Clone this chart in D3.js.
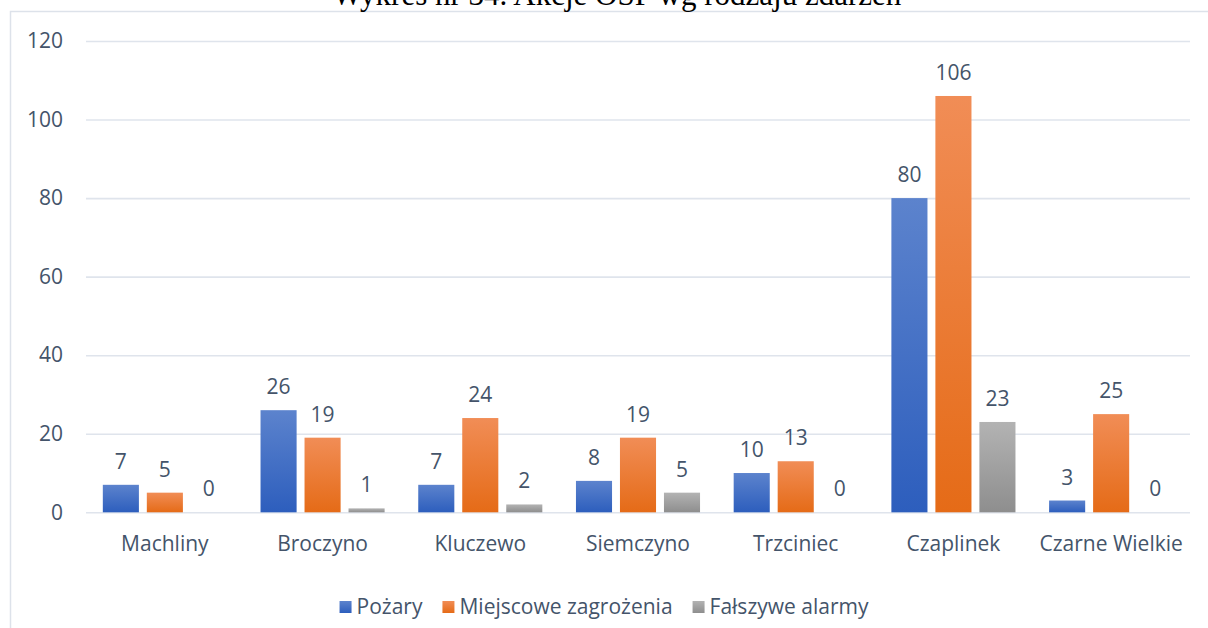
<!DOCTYPE html>
<html>
<head>
<meta charset="utf-8">
<script src="https://cdn.jsdelivr.net/npm/d3@7"></script>
<style>
  html, body { margin: 0; padding: 0; background: #fff; }
  svg { display: block; }
</style>
</head>
<body>
<svg id="chart" width="1208" height="628"></svg>
<script>
// Interventions of volunteer fire brigades by type of event
const categories = ["Machliny", "Broczyno", "Kluczewo", "Siemczyno", "Trzciniec", "Czaplinek", "Czarne Wielkie"];
const seriesNames = ["Pożary", "Miejscowe zagrożenia", "Fałszywe alarmy"];
const pozary = [7, 26, 7, 8, 10, 80, 3];
const miejscowe = [5, 19, 24, 19, 13, 106, 25];
const falszywe = [0, 1, 2, 5, 0, 23, 0];
const yTicks = [0, 20, 40, 60, 80, 100, 120];
const titleText = "Wykres nr 34. Akcje OSP wg rodzaju zdarzeń";

const seriesValues = [pozary, miejscowe, falszywe];
const gradients = [
  { top: "#5c83cd", bottom: "#2d5ebd" },
  { top: "#f18d56", bottom: "#e56b17" },
  { top: "#b3b3b3", bottom: "#8e8e8e" }
];

const svg = d3.select("#chart");
const textColor = "#44546a";
const font = "'Open Sans', 'Noto Sans', sans-serif";
const fontSize = 21;

const margin = { left: 86, right: 18, top: 41, bottom: 116 };
const W = 1208, H = 628;

const x0 = d3.scaleBand().domain(categories).range([margin.left, W - margin.right]).padding(0);
const groupWidth = 132;
const x1 = d3.scaleBand().domain(d3.range(seriesNames.length))
  .range([(x0.bandwidth() - groupWidth) / 2, (x0.bandwidth() + groupWidth) / 2])
  .paddingInner(0.18).paddingOuter(0.09);
const y = d3.scaleLinear().domain([0, 120]).range([512.3, margin.top]);

// gradient fills, lighter at the top of each bar
const defs = svg.append("defs");
gradients.forEach((g, i) => {
  const lg = defs.append("linearGradient").attr("id", "grad" + i)
    .attr("x1", 0).attr("y1", 0).attr("x2", 0).attr("y2", 1);
  lg.append("stop").attr("offset", "0%").attr("stop-color", g.top);
  lg.append("stop").attr("offset", "100%").attr("stop-color", g.bottom);
});

// chart area frame
svg.append("path")
  .attr("d", `M10.5,${H} V11.5 H${W}`)
  .attr("fill", "none").attr("stroke", "#dde2ea").attr("stroke-width", 1.5);

// title (sits above the frame, partly beyond the top edge)
svg.append("text")
  .attr("x", 617).attr("y", 5)
  .attr("text-anchor", "middle")
  .attr("font-family", "'Liberation Serif', 'Times New Roman', serif")
  .attr("font-size", 31)
  .attr("fill", "#000")
  .text(titleText);

// gridlines and y tick labels
const yAxis = d3.axisLeft(y).tickValues(yTicks)
  .tickSize(-(W - margin.right - margin.left)).tickPadding(23);
const gy = svg.append("g").attr("transform", `translate(${margin.left},0)`).call(yAxis);
gy.select(".domain").remove();
gy.selectAll(".tick line").attr("stroke", "#dfe4ec").attr("stroke-width", 1.6);
gy.selectAll(".tick text")
  .attr("fill", textColor).attr("font-family", font).attr("font-size", fontSize);

// x axis category labels
const xAxis = d3.axisBottom(x0).tickSize(0).tickPadding(24);
const gx = svg.append("g").attr("transform", `translate(0,${y(0)})`).call(xAxis);
gx.select(".domain").remove();
gx.selectAll(".tick text")
  .attr("fill", textColor).attr("font-family", font).attr("font-size", fontSize)
  .attr("dy", "0.71em");

// bars
const groups = svg.append("g").selectAll("g")
  .data(categories).join("g")
  .attr("transform", d => `translate(${x0(d)},0)`);

groups.selectAll("rect")
  .data((d, ci) => seriesValues.map((vals, si) => ({ si, v: vals[ci] })))
  .join("rect")
  .attr("x", d => x1(d.si))
  .attr("width", x1.bandwidth())
  .attr("y", d => y(d.v))
  .attr("height", d => y(0) - y(d.v))
  .attr("fill", d => `url(#grad${d.si})`);

// value labels
groups.selectAll("text.val")
  .data((d, ci) => seriesValues.map((vals, si) => ({ si, v: vals[ci] })))
  .join("text")
  .attr("class", "val")
  .attr("x", d => x1(d.si) + x1.bandwidth() / 2)
  .attr("y", d => y(d.v) - 16)
  .attr("text-anchor", "middle")
  .attr("fill", textColor).attr("font-family", font).attr("font-size", fontSize)
  .text(d => d.v);

// legend
const legend = svg.append("g");
let lx = 0;
seriesNames.forEach((name, i) => {
  const item = legend.append("g").attr("transform", `translate(${lx},0)`);
  item.append("rect").attr("x", 0).attr("y", -13).attr("width", 12).attr("height", 12)
    .attr("fill", `url(#grad${i})`);
  const t = item.append("text").attr("x", 17).attr("y", 0)
    .attr("fill", textColor).attr("font-family", font).attr("font-size", fontSize)
    .text(name);
  lx += 17 + t.node().getComputedTextLength() + 20;
});
const legendWidth = lx - 20;
legend.attr("transform", `translate(${(W - legendWidth) / 2},614)`);
</script>
</body>
</html>
